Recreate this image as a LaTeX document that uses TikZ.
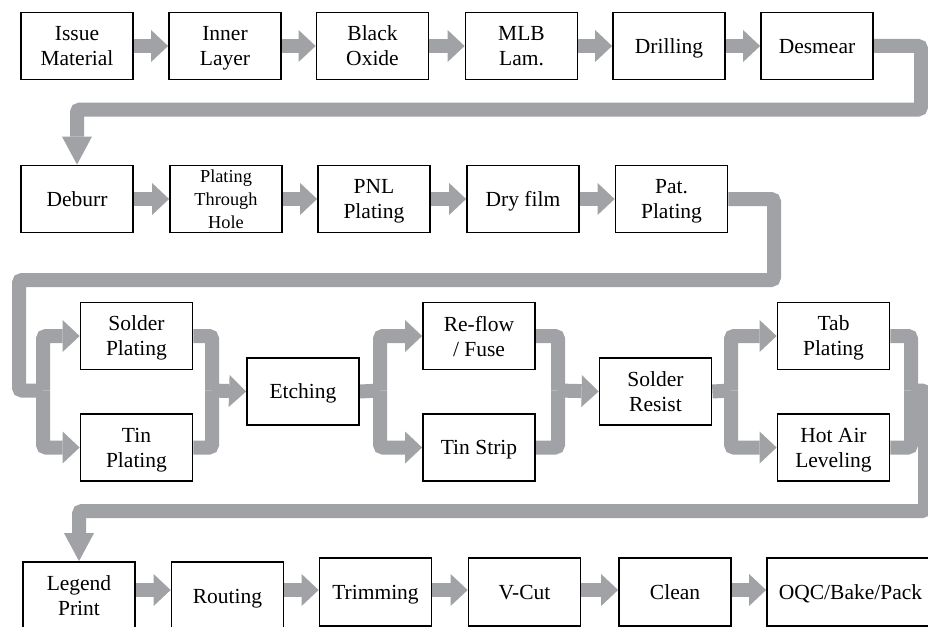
\documentclass[tikz,border=0pt]{standalone}
\usepackage{fontspec}
\setmainfont{Liberation Serif}
\usetikzlibrary{arrows.meta}
\definecolor{flowgray}{HTML}{A0A2A5}
\pgfdeclarelayer{bg}
\pgfsetlayers{bg,main}
\begin{document}
\begin{tikzpicture}[x=1pt,y=-1pt,
  box/.style={draw=black, line width=1.8pt, fill=white, minimum width=112pt, minimum height=67pt,
              inner sep=0pt, align=center, text depth=0pt, yshift=-1pt,
              font=\fontsize{21.5}{25}\selectfont},
  smalltext/.style={font=\fontsize{18.3}{23}\selectfont},
  band/.style={draw=flowgray, line width=14pt},
  bent/.style={rounded corners=3pt},
  harrow/.style={band, -{Triangle[length=17pt,width=32pt,line width=0pt]}},
  varrow/.style={band, -{Triangle[length=28pt,width=30pt,line width=0pt]}}]
\useasboundingbox (0,0) rectangle (928,626);
\clip (0,0) rectangle (928,626);

% Row 1
\node[box] (issue)   at (77,45)    {Issue\\Material};
\node[box] (inner)   at (225,45)   {Inner\\Layer};
\node[box] (black)   at (372.5,45) {Black\\Oxide};
\node[box] (mlb)     at (521.5,45) {MLB\\Lam.};
\node[box] (drill)   at (669,45)   {Drilling};
\node[box] (desmear) at (817,45)   {Desmear};

% Row 2
\node[box] (deburr) at (77,198)    {Deburr};
\node[box, smalltext] (pth) at (226,198) {Plating\\Through\\Hole};
\node[box] (pnl)    at (374,198)   {PNL\\Plating};
\node[box] (dry)    at (523,198)   {Dry film};
\node[box] (pat)    at (671.5,198) {Pat.\\Plating};

% Row 3
\node[box] (solder)   at (136.5,335)   {Solder\\Plating};
\node[box] (tinp)     at (136.5,446.5) {Tin\\Plating};
\node[box] (etch)     at (303,390.5)   {Etching};
\node[box] (reflow)   at (479,335)     {Re-flow\\/ Fuse};
\node[box] (tinstrip) at (479,446.5)   {Tin Strip};
\node[box] (sr)       at (655.5,390.5) {Solder\\Resist};
\node[box] (tab)      at (833.5,335)   {Tab\\Plating};
\node[box] (hal)      at (833.5,446.5) {Hot Air\\Leveling};

% Row 4
\node[box, minimum height=68pt] (legend)  at (79,595)    {Legend\\Print};
\node[box, minimum height=68pt] (routing) at (227.5,595)  {Routing};
\node[box, minimum height=68pt] (trim)    at (375.5,591)  {Trimming};
\node[box, minimum height=68pt] (vcut)    at (524.5,591)  {V-Cut};
\node[box, minimum height=68pt] (clean)   at (675,591)    {Clean};
\node[box, minimum height=68pt, minimum width=167pt] (oqc) at (850.5,591) {OQC/Bake/Pack};

\coordinate (r4) at (0,590);
\coordinate (j1) at (43,390.5);
\coordinate (m1) at (212,390.5);
\coordinate (j2) at (380,390.5);
\coordinate (m2) at (558,390.5);
\coordinate (j3) at (731,390.5);
\coordinate (m3) at (911,390.5);

\begin{pgfonlayer}{bg}
% Row 1 arrows
\draw[harrow] (issue) -- (inner);
\draw[harrow] (inner) -- (black);
\draw[harrow] (black) -- (mlb);
\draw[harrow] (mlb) -- (drill);
\draw[harrow] (drill) -- (desmear);
\draw[varrow, bent] (desmear.east) -| (921,109.5) -| (deburr.north);

% Row 2 arrows
\draw[harrow] (deburr) -- (pth);
\draw[harrow] (pth) -- (pnl);
\draw[harrow] (pnl) -- (dry);
\draw[harrow] (dry) -- (pat);
\draw[band, bent] (pat.east) -| (774,280) -| (19,390.5) -- (j1);

% Row 3
\draw[harrow, bent] (j1) |- (solder.west);
\draw[harrow, bent] (j1) |- (tinp.west);
\draw[band, bent] (solder.east) -| (m1);
\draw[band, bent] (tinp.east) -| (m1);
\draw[harrow] (m1) -- (etch.west);
\draw[band] (etch.east) -- (j2);
\draw[harrow, bent] (j2) |- (reflow.west);
\draw[harrow, bent] (j2) |- (tinstrip.west);
\draw[band, bent] (reflow.east) -| (m2);
\draw[band, bent] (tinstrip.east) -| (m2);
\draw[harrow] (m2) -- (sr.west);
\draw[band] (sr.east) -- (j3);
\draw[harrow, bent] (j3) |- (tab.west);
\draw[harrow, bent] (j3) |- (hal.west);
\draw[band, bent] (tab.east) -| (m3);
\draw[band, bent] (hal.east) -| (m3);
\draw[varrow, bent] (m3) -| (925,511) -| (legend.north);

% Row 4 arrows
\draw[harrow] (legend.east |- r4) -- (routing.west |- r4);
\draw[harrow] (routing.east |- r4) -- (trim.west |- r4);
\draw[harrow] (trim.east |- r4) -- (vcut.west |- r4);
\draw[harrow] (vcut.east |- r4) -- (clean.west |- r4);
\draw[harrow] (clean.east |- r4) -- (oqc.west |- r4);
\end{pgfonlayer}
\end{tikzpicture}
\end{document}
